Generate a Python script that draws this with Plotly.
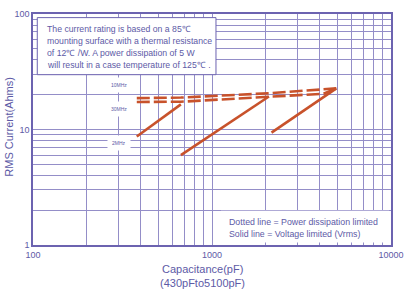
import plotly.graph_objects as go

# ---- data ----
# solid lines = voltage limited
solid1_cap = [380, 670]
solid1_cur = [8.7, 16.5]
solid2_cap = [670, 2080]
solid2_cur = [6.0, 19.3]
solid3_cap = [2150, 4950]
solid3_cur = [9.4, 22.7]
# dashed lines = power dissipation limited
dashU_cap = [380, 670, 2080, 4950]
dashU_cur = [18.7, 18.9, 20.6, 22.7]
dashL_cap = [380, 670, 2080, 4200, 4950]
dashL_cur = [17.3, 17.4, 19.2, 20.4, 22.7]

freq_labels = ["10MHz", "30MHz", "2MHz"]
x_decades = [100, 1000, 10000]
y_decades = [1, 10, 100]

note_lines = [
    "The current rating is based on a 85\u2103",
    "mounting surface with a thermal resistance",
    "of 12\u2103 /W. A power dissipation of 5 W",
    "will result in a case temperature of 125\u2103 .",
]
legend_lines = [
    "Dotted line = Power dissipation limited",
    "Solid line = Voltage limited (Vrms)",
]
x_title = ["Capacitance(pF)", "(430pFto5100pF)"]
y_title = "RMS Current(Ahms)"

# ---- styles ----
ORANGE = "#c8522b"
TXT = "#5d5aa6"
GRID = "#948ec8"
AXIS = "#6c63b0"
FONT = "Liberation Sans, Arial, sans-serif"


def log_ticks(decades):
    vals, texts = [], []
    for i, d in enumerate(decades):
        if i == len(decades) - 1:
            vals.append(d)
            texts.append(str(d))
            break
        for k in range(1, 10):
            vals.append(d * k)
            texts.append(str(d) if k == 1 else "")
    return vals, texts


xtv, xtt = log_ticks(x_decades)
ytv, ytt = log_ticks(y_decades)

fig = go.Figure()
for cx, cy in [(dashU_cap, dashU_cur), (dashL_cap, dashL_cur)]:
    fig.add_trace(go.Scatter(x=cx, y=cy, mode="lines",
                             line=dict(color=ORANGE, width=2.6, dash="13px,4px"),
                             hoverinfo="skip"))
for cx, cy in [(solid1_cap, solid1_cur), (solid2_cap, solid2_cur), (solid3_cap, solid3_cur)]:
    fig.add_trace(go.Scatter(x=cx, y=cy, mode="lines",
                             line=dict(color=ORANGE, width=2.6),
                             hoverinfo="skip"))

PL, PR, PT, PB = 33, 20, 9, 46
W, H = 413, 291
pw, ph = W - PL - PR, H - PT - PB


def px(x):
    return (x - PL) / pw


def py(y):
    return (H - PB - y) / ph


shapes = [
    dict(type="rect", xref="paper", yref="paper",
         x0=px(37.3), x1=px(217), y0=py(71), y1=py(12.7),
         fillcolor="white", line=dict(color=AXIS, width=1), layer="above"),
    dict(type="rect", xref="paper", yref="paper",
         x0=px(222), x1=px(391), y0=py(242.5), y1=py(210),
         fillcolor="white", line=dict(width=0), layer="above"),
]

ann = []
for i, t in enumerate(note_lines):
    ann.append(dict(text=t, xref="paper", yref="paper", x=px(45), y=py(24.3 + i * 12.2),
                    xanchor="left", yanchor="middle", showarrow=False,
                    font=dict(size=8.7, color=TXT, family=FONT)))
for i, t in enumerate(legend_lines):
    ann.append(dict(text=t, xref="paper", yref="paper", x=px(228), y=py(221 + i * 12.7),
                    xanchor="left", yanchor="middle", showarrow=False,
                    font=dict(size=8.8, color=TXT, family=FONT)))
for t, yy in zip(freq_labels, [82, 105.7, 140.7]):
    ann.append(dict(text=t, xref="paper", yref="paper", x=px(119), y=py(yy),
                    xanchor="center", yanchor="middle", showarrow=False,
                    bgcolor="white", borderpad=4,
                    font=dict(size=5, color=TXT, family=FONT)))
for t, yy in zip(x_title, [270, 284]):
    ann.append(dict(text=t, xref="paper", yref="paper", x=px(203), y=py(yy),
                    xanchor="center", yanchor="middle", showarrow=False,
                    font=dict(size=11, color=TXT, family=FONT)))
ann.append(dict(text=y_title, xref="paper", yref="paper", x=px(8), y=py(124),
                xanchor="center", yanchor="middle", showarrow=False, textangle=-90,
                font=dict(size=11, color=TXT, family=FONT)))

axis_common = dict(type="log", showgrid=True, gridcolor=GRID, gridwidth=1,
                   showline=True, linecolor=AXIS, linewidth=1.5, mirror=True,
                   ticks="", zeroline=False, tickmode="array",
                   tickfont=dict(size=9, color=TXT, family=FONT))

fig.update_layout(
    width=W, height=H,
    margin=dict(l=PL, r=PR, t=PT, b=PB, pad=0),
    paper_bgcolor="white", plot_bgcolor="white",
    showlegend=False,
    xaxis=dict(range=[2, 4], tickvals=xtv, ticktext=xtt, **axis_common),
    yaxis=dict(range=[0, 2], tickvals=ytv, ticktext=ytt, **axis_common),
    shapes=shapes, annotations=ann,
)

fig.write_html("out.html")
